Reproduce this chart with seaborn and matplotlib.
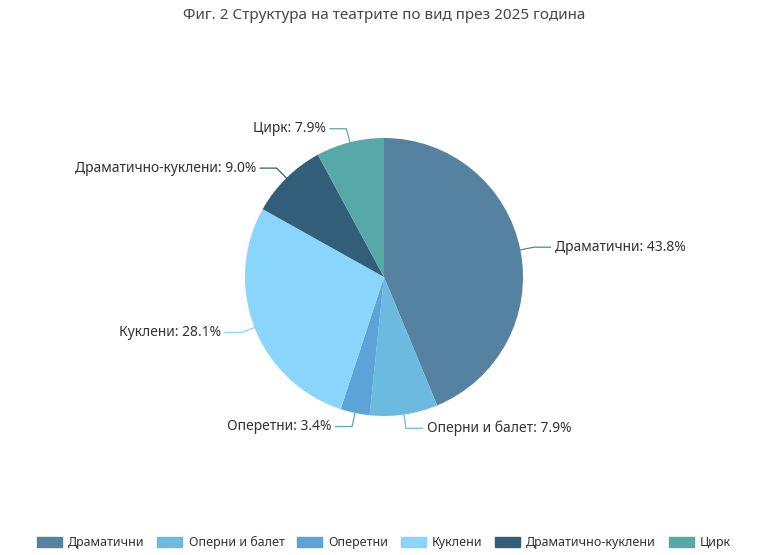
import numpy as np
import matplotlib
matplotlib.use("Agg")
import matplotlib.pyplot as plt
import seaborn as sns
from matplotlib.patches import FancyBboxPatch

categories = ["Драматични", "Оперни и балет", "Оперетни", "Куклени", "Драматично-куклени", "Цирк"]
shares = [43.8, 7.9, 3.4, 28.1, 9.0, 7.9]
colors = ["#5482a0", "#6cbadf", "#5ca4d8", "#8ad5fb", "#335e7a", "#57a9a8"]

sns.set_theme(style="white")
plt.rcParams['font.family'] = ['Noto Sans', 'DejaVu Sans']

fig = plt.figure(figsize=(7.68, 5.55), dpi=100)
cx, cy, r = 384, 277, 139
ax = fig.add_axes([(cx - r) / 768, (555 - cy - r) / 555, 2 * r / 768, 2 * r / 555])
wedges, _ = ax.pie(shares, colors=colors, startangle=90, counterclock=False,
                   radius=1, wedgeprops=dict(linewidth=0))
ax.set_xlim(-1, 1)
ax.set_ylim(-1, 1)
ax.set_aspect("equal")

for w, cat, v in zip(wedges, categories, shares):
    ang = np.deg2rad((w.theta1 + w.theta2) / 2)
    x0, y0 = np.cos(ang), np.sin(ang)
    x1, y1 = 1.1 * x0, 1.1 * y0
    side = 1 if x0 >= 0 else -1
    x2 = x1 + side * 0.12
    ax.plot([x0, x1, x2], [y0, y1, y1], color=w.get_facecolor(), lw=0.9, clip_on=False)
    ax.text(x2 + side * 0.03, y1, f"{cat}: {v}%", ha="left" if side > 0 else "right",
            va="center", fontsize=10, color="#333333")

fig.text(0.5, 0.972, "Фиг. 2 Структура на театрите по вид през 2025 година",
         ha="center", va="center", fontsize=11, fontweight="bold", color="#464646")

handles = [plt.Rectangle((0, 0), 1, 1, color=c) for c in colors]
fig.legend(handles, categories, loc="center", bbox_to_anchor=(0.5, 0.022), ncol=6,
           frameon=False, fontsize=9, handlelength=2.0, handleheight=0.9,
           columnspacing=1.0, handletextpad=0.5, labelcolor="#333333")

fig.savefig("out.png", dpi=100)
